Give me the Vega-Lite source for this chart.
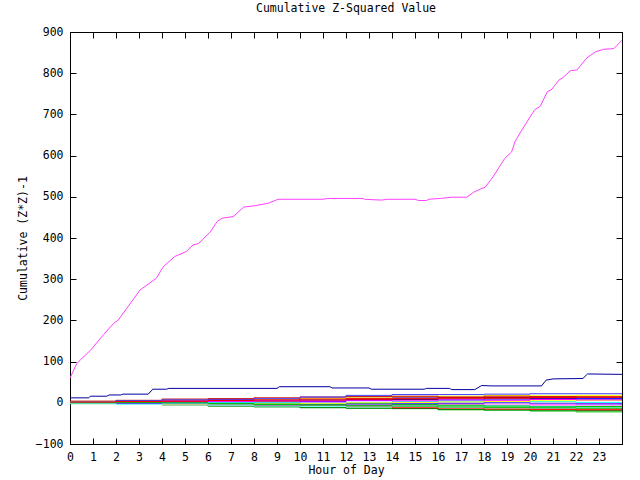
{
  "$schema": "https://vega.github.io/schema/vega-lite/v6.json",
  "width": 552,
  "height": 412,
  "autosize": {"type": "none"},
  "padding": {"left": 70, "top": 32, "right": 18, "bottom": 36},
  "background": "white",
  "title": {"text": "Cumulative Z-Squared Value", "font": "DejaVu Sans Mono", "fontSize": 11.5, "fontWeight": "normal", "color": "black", "anchor": "middle", "offset": 12},
  "config": {
    "view": {"stroke": "black", "strokeWidth": 1},
    "axis": {"grid": false, "domainColor": "black", "labelColor": "black", "titleColor": "black", "labelFont": "DejaVu Sans Mono", "titleFont": "DejaVu Sans Mono", "labelFontSize": 11.5, "titleFontSize": 11.5, "titleFontWeight": "normal", "domainWidth": 1}
  },
  "datasets": {
    "small": [
      {"s":"s01","h":0,"v":0},{"s":"s01","h":2,"v":3},{"s":"s01","h":4,"v":2},{"s":"s01","h":6,"v":-1},{"s":"s01","h":8,"v":-3},{"s":"s01","h":10,"v":-5},{"s":"s01","h":12,"v":-6},{"s":"s01","h":14,"v":-9},{"s":"s01","h":16,"v":-11},{"s":"s01","h":18,"v":-12},{"s":"s01","h":20,"v":-14},{"s":"s01","h":22,"v":-15},{"s":"s01","h":24,"v":-16},
      {"s":"s02","h":0,"v":-1},{"s":"s02","h":2,"v":-2},{"s":"s02","h":4,"v":-4},{"s":"s02","h":6,"v":-7},{"s":"s02","h":8,"v":-9},{"s":"s02","h":10,"v":-11},{"s":"s02","h":12,"v":-13},{"s":"s02","h":14,"v":-14},{"s":"s02","h":16,"v":-17},{"s":"s02","h":18,"v":-18},{"s":"s02","h":20,"v":-20},{"s":"s02","h":22,"v":-22},{"s":"s02","h":24,"v":-22},
      {"s":"s03","h":0,"v":2},{"s":"s03","h":2,"v":4},{"s":"s03","h":4,"v":6},{"s":"s03","h":6,"v":5},{"s":"s03","h":8,"v":7},{"s":"s03","h":10,"v":9},{"s":"s03","h":12,"v":11},{"s":"s03","h":14,"v":12},{"s":"s03","h":16,"v":13},{"s":"s03","h":18,"v":12},{"s":"s03","h":20,"v":11},{"s":"s03","h":22,"v":9},{"s":"s03","h":24,"v":10},
      {"s":"s04","h":0,"v":0},{"s":"s04","h":2,"v":1},{"s":"s04","h":4,"v":-1},{"s":"s04","h":6,"v":-2},{"s":"s04","h":8,"v":0},{"s":"s04","h":10,"v":2},{"s":"s04","h":12,"v":1},{"s":"s04","h":14,"v":-1},{"s":"s04","h":16,"v":-2},{"s":"s04","h":18,"v":0},{"s":"s04","h":20,"v":-3},{"s":"s04","h":22,"v":-2},{"s":"s04","h":24,"v":-4},
      {"s":"s05","h":0,"v":1},{"s":"s05","h":2,"v":0},{"s":"s05","h":4,"v":-2},{"s":"s05","h":6,"v":-3},{"s":"s05","h":8,"v":-5},{"s":"s05","h":10,"v":-6},{"s":"s05","h":12,"v":-8},{"s":"s05","h":14,"v":-6},{"s":"s05","h":16,"v":-5},{"s":"s05","h":18,"v":-7},{"s":"s05","h":20,"v":-9},{"s":"s05","h":22,"v":-10},{"s":"s05","h":24,"v":-11},
      {"s":"s06","h":0,"v":3},{"s":"s06","h":2,"v":5},{"s":"s06","h":4,"v":4},{"s":"s06","h":6,"v":7},{"s":"s06","h":8,"v":9},{"s":"s06","h":10,"v":10},{"s":"s06","h":12,"v":12},{"s":"s06","h":14,"v":15},{"s":"s06","h":16,"v":16},{"s":"s06","h":18,"v":18},{"s":"s06","h":20,"v":17},{"s":"s06","h":22,"v":18},{"s":"s06","h":24,"v":18},
      {"s":"s07","h":0,"v":4},{"s":"s07","h":2,"v":6},{"s":"s07","h":4,"v":9},{"s":"s07","h":6,"v":10},{"s":"s07","h":8,"v":12},{"s":"s07","h":10,"v":14},{"s":"s07","h":12,"v":15},{"s":"s07","h":14,"v":16},{"s":"s07","h":16,"v":14},{"s":"s07","h":18,"v":16},{"s":"s07","h":20,"v":15},{"s":"s07","h":22,"v":14},{"s":"s07","h":24,"v":15},
      {"s":"s08","h":0,"v":2},{"s":"s08","h":2,"v":5},{"s":"s08","h":4,"v":7},{"s":"s08","h":6,"v":8},{"s":"s08","h":8,"v":10},{"s":"s08","h":10,"v":14},{"s":"s08","h":12,"v":18},{"s":"s08","h":14,"v":20},{"s":"s08","h":16,"v":20},{"s":"s08","h":18,"v":21},{"s":"s08","h":20,"v":22},{"s":"s08","h":22,"v":22},{"s":"s08","h":24,"v":22},
      {"s":"s09","h":0,"v":-1},{"s":"s09","h":2,"v":-2},{"s":"s09","h":4,"v":0},{"s":"s09","h":6,"v":-3},{"s":"s09","h":8,"v":-2},{"s":"s09","h":10,"v":-4},{"s":"s09","h":12,"v":-5},{"s":"s09","h":14,"v":-6},{"s":"s09","h":16,"v":-4},{"s":"s09","h":18,"v":-5},{"s":"s09","h":20,"v":-7},{"s":"s09","h":22,"v":-6},{"s":"s09","h":24,"v":-8},
      {"s":"s10","h":0,"v":-2},{"s":"s10","h":2,"v":-3},{"s":"s10","h":4,"v":-5},{"s":"s10","h":6,"v":-8},{"s":"s10","h":8,"v":-10},{"s":"s10","h":10,"v":-12},{"s":"s10","h":12,"v":-13},{"s":"s10","h":14,"v":-14},{"s":"s10","h":16,"v":-16},{"s":"s10","h":18,"v":-17},{"s":"s10","h":20,"v":-18},{"s":"s10","h":22,"v":-19},{"s":"s10","h":24,"v":-20},
      {"s":"s11","h":0,"v":-1},{"s":"s11","h":2,"v":-3},{"s":"s11","h":4,"v":-4},{"s":"s11","h":6,"v":-5},{"s":"s11","h":8,"v":-6},{"s":"s11","h":10,"v":-8},{"s":"s11","h":12,"v":-9},{"s":"s11","h":14,"v":-12},{"s":"s11","h":16,"v":-13},{"s":"s11","h":18,"v":-15},{"s":"s11","h":20,"v":-16},{"s":"s11","h":22,"v":-17},{"s":"s11","h":24,"v":-18},
      {"s":"s12","h":0,"v":1},{"s":"s12","h":2,"v":3},{"s":"s12","h":4,"v":2},{"s":"s12","h":6,"v":0},{"s":"s12","h":8,"v":-1},{"s":"s12","h":10,"v":-3},{"s":"s12","h":12,"v":-2},{"s":"s12","h":14,"v":-4},{"s":"s12","h":16,"v":-6},{"s":"s12","h":18,"v":-8},{"s":"s12","h":20,"v":-10},{"s":"s12","h":22,"v":-9},{"s":"s12","h":24,"v":-11},
      {"s":"s13","h":0,"v":-1},{"s":"s13","h":2,"v":0},{"s":"s13","h":4,"v":2},{"s":"s13","h":6,"v":4},{"s":"s13","h":8,"v":5},{"s":"s13","h":10,"v":3},{"s":"s13","h":12,"v":6},{"s":"s13","h":14,"v":8},{"s":"s13","h":16,"v":7},{"s":"s13","h":18,"v":9},{"s":"s13","h":20,"v":10},{"s":"s13","h":22,"v":11},{"s":"s13","h":24,"v":12},
      {"s":"s14","h":0,"v":2},{"s":"s14","h":2,"v":1},{"s":"s14","h":4,"v":2},{"s":"s14","h":6,"v":1},{"s":"s14","h":8,"v":0},{"s":"s14","h":10,"v":-1},{"s":"s14","h":12,"v":1},{"s":"s14","h":14,"v":3},{"s":"s14","h":16,"v":4},{"s":"s14","h":18,"v":2},{"s":"s14","h":20,"v":3},{"s":"s14","h":22,"v":1},{"s":"s14","h":24,"v":2},
      {"s":"s15","h":0,"v":0},{"s":"s15","h":2,"v":-1},{"s":"s15","h":4,"v":-3},{"s":"s15","h":6,"v":-4},{"s":"s15","h":8,"v":-3},{"s":"s15","h":10,"v":-2},{"s":"s15","h":12,"v":0},{"s":"s15","h":14,"v":1},{"s":"s15","h":16,"v":2},{"s":"s15","h":18,"v":3},{"s":"s15","h":20,"v":5},{"s":"s15","h":22,"v":6},{"s":"s15","h":24,"v":7},
      {"s":"s16","h":0,"v":1},{"s":"s16","h":2,"v":2},{"s":"s16","h":4,"v":3},{"s":"s16","h":6,"v":5},{"s":"s16","h":8,"v":4},{"s":"s16","h":10,"v":6},{"s":"s16","h":12,"v":8},{"s":"s16","h":14,"v":9},{"s":"s16","h":16,"v":11},{"s":"s16","h":18,"v":13},{"s":"s16","h":20,"v":12},{"s":"s16","h":22,"v":14},{"s":"s16","h":24,"v":13},
      {"s":"s17","h":0,"v":0},{"s":"s17","h":2,"v":-2},{"s":"s17","h":4,"v":-1},{"s":"s17","h":6,"v":-3},{"s":"s17","h":8,"v":-5},{"s":"s17","h":10,"v":-4},{"s":"s17","h":12,"v":-3},{"s":"s17","h":14,"v":-2},{"s":"s17","h":16,"v":-1},{"s":"s17","h":18,"v":0},{"s":"s17","h":20,"v":-1},{"s":"s17","h":22,"v":-3},{"s":"s17","h":24,"v":-2},
      {"s":"s18","h":0,"v":1},{"s":"s18","h":2,"v":2},{"s":"s18","h":4,"v":4},{"s":"s18","h":6,"v":3},{"s":"s18","h":8,"v":5},{"s":"s18","h":10,"v":4},{"s":"s18","h":12,"v":6},{"s":"s18","h":14,"v":5},{"s":"s18","h":16,"v":7},{"s":"s18","h":18,"v":6},{"s":"s18","h":20,"v":8},{"s":"s18","h":22,"v":7},{"s":"s18","h":24,"v":9},
      {"s":"s19","h":0,"v":-2},{"s":"s19","h":2,"v":-4},{"s":"s19","h":4,"v":-3},{"s":"s19","h":6,"v":-6},{"s":"s19","h":8,"v":-8},{"s":"s19","h":10,"v":-9},{"s":"s19","h":12,"v":-10},{"s":"s19","h":14,"v":-9},{"s":"s19","h":16,"v":-11},{"s":"s19","h":18,"v":-12},{"s":"s19","h":20,"v":-13},{"s":"s19","h":22,"v":-12},{"s":"s19","h":24,"v":-14},
      {"s":"s20","h":0,"v":0},{"s":"s20","h":2,"v":1},{"s":"s20","h":4,"v":0},{"s":"s20","h":6,"v":-2},{"s":"s20","h":8,"v":-4},{"s":"s20","h":10,"v":-5},{"s":"s20","h":12,"v":-7},{"s":"s20","h":14,"v":-8},{"s":"s20","h":16,"v":-10},{"s":"s20","h":18,"v":-11},{"s":"s20","h":20,"v":-12},{"s":"s20","h":22,"v":-13},{"s":"s20","h":24,"v":-15},
      {"s":"s21","h":0,"v":2},{"s":"s21","h":2,"v":3},{"s":"s21","h":4,"v":4},{"s":"s21","h":6,"v":6},{"s":"s21","h":8,"v":7},{"s":"s21","h":10,"v":9},{"s":"s21","h":12,"v":10},{"s":"s21","h":14,"v":11},{"s":"s21","h":16,"v":12},{"s":"s21","h":18,"v":11},{"s":"s21","h":20,"v":13},{"s":"s21","h":22,"v":14},{"s":"s21","h":24,"v":14}
    ],
    "big": [
      {"s":"s00","h":0,"v":12},{"s":"s00","h":0.8,"v":12},{"s":"s00","h":0.9,"v":16},{"s":"s00","h":1.6,"v":16},{"s":"s00","h":1.7,"v":19},{"s":"s00","h":2.2,"v":19},{"s":"s00","h":2.3,"v":21},{"s":"s00","h":3.4,"v":21},{"s":"s00","h":3.6,"v":33},{"s":"s00","h":4.2,"v":33},{"s":"s00","h":4.3,"v":35},{"s":"s00","h":9,"v":35},{"s":"s00","h":9.1,"v":39},{"s":"s00","h":11.3,"v":39},{"s":"s00","h":11.4,"v":36},{"s":"s00","h":13,"v":36},{"s":"s00","h":13.1,"v":33},{"s":"s00","h":15.4,"v":33},{"s":"s00","h":15.5,"v":35},{"s":"s00","h":16.5,"v":35},{"s":"s00","h":16.6,"v":32},{"s":"s00","h":17.6,"v":32},{"s":"s00","h":17.9,"v":42},{"s":"s00","h":18.3,"v":41},{"s":"s00","h":20.5,"v":41},{"s":"s00","h":20.7,"v":55},{"s":"s00","h":21,"v":58},{"s":"s00","h":22.3,"v":59},{"s":"s00","h":22.5,"v":70},{"s":"s00","h":24,"v":69},
      {"s":"pk","h":0,"v":60},{"s":"pk","h":0.3,"v":96},{"s":"pk","h":0.45,"v":104},{"s":"pk","h":0.9,"v":128},{"s":"pk","h":1.45,"v":165},{"s":"pk","h":1.9,"v":193},{"s":"pk","h":2.1,"v":201},{"s":"pk","h":3.05,"v":274},{"s":"pk","h":3.75,"v":302},{"s":"pk","h":4.05,"v":330},{"s":"pk","h":4.55,"v":355},{"s":"pk","h":5.05,"v":367},{"s":"pk","h":5.35,"v":383},{"s":"pk","h":5.6,"v":387},{"s":"pk","h":6.1,"v":415},{"s":"pk","h":6.4,"v":440},{"s":"pk","h":6.6,"v":448},{"s":"pk","h":7.1,"v":452},{"s":"pk","h":7.55,"v":475},{"s":"pk","h":8.0,"v":478},{"s":"pk","h":8.6,"v":484},{"s":"pk","h":9.05,"v":494},{"s":"pk","h":11.0,"v":494},{"s":"pk","h":11.2,"v":496},{"s":"pk","h":12.75,"v":496},{"s":"pk","h":12.8,"v":494},{"s":"pk","h":13.55,"v":492},{"s":"pk","h":13.8,"v":494},{"s":"pk","h":15.0,"v":494},{"s":"pk","h":15.15,"v":491},{"s":"pk","h":15.5,"v":491},{"s":"pk","h":15.6,"v":494},{"s":"pk","h":16.1,"v":496},{"s":"pk","h":16.6,"v":499},{"s":"pk","h":17.25,"v":499},{"s":"pk","h":17.55,"v":511},{"s":"pk","h":17.85,"v":519},{"s":"pk","h":18.05,"v":523},{"s":"pk","h":18.4,"v":549},{"s":"pk","h":18.9,"v":593},{"s":"pk","h":19.2,"v":609},{"s":"pk","h":19.35,"v":634},{"s":"pk","h":19.6,"v":658},{"s":"pk","h":20.2,"v":711},{"s":"pk","h":20.45,"v":720},{"s":"pk","h":20.75,"v":755},{"s":"pk","h":20.95,"v":761},{"s":"pk","h":21.25,"v":783},{"s":"pk","h":21.45,"v":790},{"s":"pk","h":21.75,"v":806},{"s":"pk","h":22.05,"v":808},{"s":"pk","h":22.45,"v":836},{"s":"pk","h":22.85,"v":852},{"s":"pk","h":23.2,"v":858},{"s":"pk","h":23.5,"v":859},{"s":"pk","h":23.65,"v":860},{"s":"pk","h":24,"v":880}
    ]
  },
  "layer": [
    {
      "data": {"name": "small"},
      "mark": {"type": "line", "interpolate": "step-after", "strokeWidth": 1, "clip": true},
      "encoding": {
        "x": {"field": "h", "type": "quantitative", "scale": {"domain": [0, 24], "nice": false, "zero": false},
          "axis": {"orient": "bottom", "tickSize": -6, "tickColor": "black", "tickWidth": 1, "values": [0,1,2,3,4,5,6,7,8,9,10,11,12,13,14,15,16,17,18,19,20,21,22,23], "title": "Hour of Day", "labelPadding": 13, "labelFlush": false, "labelOverlap": false, "titleX": 276, "titleY": 26, "titleAlign": "center", "titleBaseline": "middle"}},
        "y": {"field": "v", "type": "quantitative", "scale": {"domain": [-100, 900], "nice": false, "zero": false},
          "axis": {"orient": "left", "tickSize": -6, "tickColor": "black", "tickWidth": 1, "values": [-100,0,100,200,300,400,500,600,700,800,900], "title": "Cumulative (Z*Z)-1", "labelPadding": 13, "labelFlush": false, "labelOverlap": false, "titleX": -47, "titleY": 206, "titleAngle": -90, "titleAlign": "center", "titleBaseline": "middle"}},
        "color": {"field": "s", "type": "nominal", "legend": null,
          "scale": {"domain": ["s00","pk","s01","s02","s03","s04","s05","s06","s07","s08","s09","s10","s11","s12","s13","s14","s15","s16","s17","s18","s19","s20","s21"],
            "range": ["#0000a0","#ff40ff","#ff0000","#00c000","#0000ff","#ff00ff","#00ffff","#ffff00","#c00000","#4040ff","#ff80ff","#008000","#ff0000","#00c000","#0000ff","#00ffff","#ffff00","#c00000","#4040ff","#ff00ff","#80ffff","#00c000","#ff0000"]}}
      }
    },
    {
      "data": {"name": "big"},
      "mark": {"type": "line", "strokeWidth": 1, "clip": true},
      "encoding": {
        "x": {"field": "h", "type": "quantitative", "axis": {"orient": "top", "tickSize": -6, "tickColor": "black", "tickWidth": 1, "values": [0,1,2,3,4,5,6,7,8,9,10,11,12,13,14,15,16,17,18,19,20,21,22,23], "labels": false, "title": null}},
        "y": {"field": "v", "type": "quantitative", "axis": {"orient": "right", "tickSize": -6, "tickColor": "black", "tickWidth": 1, "values": [-100,0,100,200,300,400,500,600,700,800,900], "labels": false, "title": null}},
        "color": {"field": "s", "type": "nominal", "legend": null}
      }
    }
  ],
  "resolve": {"axis": {"x": "independent", "y": "independent"}}
}
